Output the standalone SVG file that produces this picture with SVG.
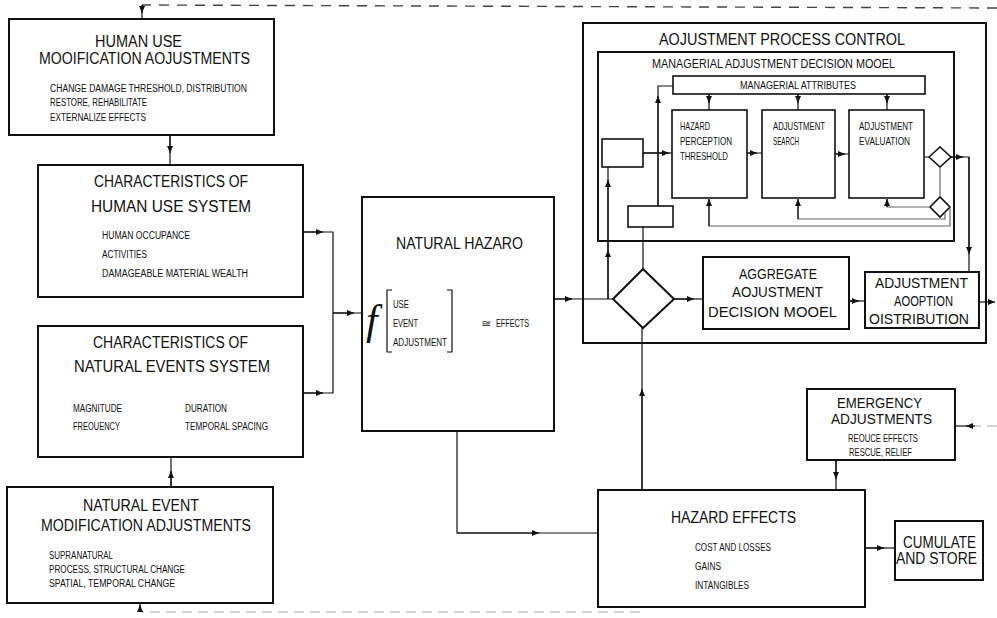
<svg xmlns="http://www.w3.org/2000/svg" width="997" height="618" viewBox="0 0 997 618">
<defs>
<marker id="ah" markerWidth="8" markerHeight="6" refX="7" refY="3" orient="auto" markerUnits="userSpaceOnUse">
<path d="M0,0 L7,3 L0,6 z" fill="#111"/>
</marker>
<style>
.bx{fill:#fff;stroke:#111;stroke-width:2}
.bc{fill:none;stroke:#111;stroke-width:2}
.bi{fill:#fff;stroke:#111;stroke-width:1.6}
.ln{fill:none;stroke:#111;stroke-width:1.2}
.lg{fill:none;stroke:#666;stroke-width:1.2}
.ds{fill:none;stroke:#444;stroke-width:1.4;stroke-dasharray:10 8}
.dl{fill:none;stroke:#aaa;stroke-width:1.2;stroke-dasharray:10 6}
text{font-family:"Liberation Sans Narrow","Liberation Sans",Arial,sans-serif;fill:#111}
.t{font-size:16px}
.s{font-size:10px}
.m{font-size:15px}
</style>
</defs>
<rect width="997" height="618" fill="#fff"/>

<g id="human-use-modification">
<rect class="bx" x="9" y="19" width="265" height="116"/>
<text class="t" x="95" y="47" textLength="87" lengthAdjust="spacingAndGlyphs">HUMAN USE</text>
<text class="t" x="39" y="64" textLength="211" lengthAdjust="spacingAndGlyphs">MOOIFICATION AOJUSTMENTS</text>
<text class="s" x="50" y="92" textLength="197" lengthAdjust="spacingAndGlyphs">CHANGE DAMAGE THRESHOLD, DISTRIBUTION</text>
<text class="s" x="50" y="106" textLength="97" lengthAdjust="spacingAndGlyphs">RESTORE, REHABILITATE</text>
<text class="s" x="50" y="121" textLength="96" lengthAdjust="spacingAndGlyphs">EXTERNALIZE EFFECTS</text>
</g>

<g id="human-use-system">
<rect class="bx" x="38" y="165" width="265" height="132"/>
<text class="t" x="94" y="187" textLength="154" lengthAdjust="spacingAndGlyphs">CHARACTERISTICS OF</text>
<text class="t" x="91" y="212" textLength="160" lengthAdjust="spacingAndGlyphs">HUMAN USE SYSTEM</text>
<text class="s" x="102" y="239" textLength="88" lengthAdjust="spacingAndGlyphs">HUMAN OCCUPANCE</text>
<text class="s" x="102" y="258" textLength="45" lengthAdjust="spacingAndGlyphs">ACTIVITIES</text>
<text class="s" x="102" y="277" textLength="146" lengthAdjust="spacingAndGlyphs">DAMAGEABLE MATERIAL WEALTH</text>
</g>

<g id="natural-events-system">
<rect class="bx" x="38" y="326" width="265" height="131"/>
<text class="t" x="93" y="348" textLength="155" lengthAdjust="spacingAndGlyphs">CHARACTERISTICS OF</text>
<text class="t" x="74" y="372" textLength="196" lengthAdjust="spacingAndGlyphs">NATURAL EVENTS SYSTEM</text>
<text class="s" x="73" y="412" textLength="49" lengthAdjust="spacingAndGlyphs">MAGNITUDE</text>
<text class="s" x="73" y="430" textLength="47" lengthAdjust="spacingAndGlyphs">FREOUENCY</text>
<text class="s" x="185" y="412" textLength="42" lengthAdjust="spacingAndGlyphs">DURATION</text>
<text class="s" x="185" y="430" textLength="83" lengthAdjust="spacingAndGlyphs">TEMPORAL SPACING</text>
</g>

<g id="natural-event-modification">
<rect class="bx" x="7" y="487" width="266" height="116"/>
<text class="t" x="83" y="511" textLength="116" lengthAdjust="spacingAndGlyphs">NATURAL EVENT</text>
<text class="t" x="41" y="531" textLength="210" lengthAdjust="spacingAndGlyphs">MODIFICATION ADJUSTMENTS</text>
<text class="s" x="49" y="559" textLength="64" lengthAdjust="spacingAndGlyphs">SUPRANATURAL</text>
<text class="s" x="49" y="573" textLength="136" lengthAdjust="spacingAndGlyphs">PROCESS, STRUCTURAL CHANGE</text>
<text class="s" x="49" y="587" textLength="126" lengthAdjust="spacingAndGlyphs">SPATIAL, TEMPORAL CHANGE</text>
</g>

<g id="natural-hazard">
<rect class="bx" x="362" y="197" width="192" height="234"/>
<text class="t" x="396" y="249" textLength="127" lengthAdjust="spacingAndGlyphs">NATURAL HAZARO</text>
<text x="366" y="334" style="font-family:'Liberation Serif',serif;font-style:italic;font-size:42px">f</text>
<path class="ln" d="M392,290 L387,290 L387,352 L392,352 M447,290 L452,290 L452,352 L447,352"/>
<text class="s" x="393" y="308" textLength="16" lengthAdjust="spacingAndGlyphs">USE</text>
<text class="s" x="393" y="327" textLength="25" lengthAdjust="spacingAndGlyphs">EVENT</text>
<text class="s" x="393" y="346" textLength="54" lengthAdjust="spacingAndGlyphs">ADJUSTMENT</text>
<text class="s" x="481" y="327" textLength="10" lengthAdjust="spacingAndGlyphs">≅</text>
<text class="s" x="496" y="327" textLength="33" lengthAdjust="spacingAndGlyphs">EFFECTS</text>
</g>

<g id="adjustment-process-control">
<rect class="bc" x="583" y="23" width="403" height="320"/>
<text x="659" y="45" style="font-size:17px" textLength="246" lengthAdjust="spacingAndGlyphs">AOJUSTMENT PROCESS CONTROL</text>
</g>

<g id="managerial-decision-model">
<rect class="bc" x="598" y="52" width="356" height="189"/>
<text x="652" y="68" style="font-size:12.5px" textLength="243" lengthAdjust="spacingAndGlyphs">MANAGERIAL ADJUSTMENT DECISION MOOEL</text>
</g>

<g id="managerial-attributes">
<rect class="bi" x="673" y="76" width="252" height="18"/>
<text class="s" x="740" y="89" textLength="116" lengthAdjust="spacingAndGlyphs">MANAGERIAL ATTRIBUTES</text>
</g>

<g id="hazard-perception-threshold">
<rect class="bi" x="672" y="110" width="75" height="88"/>
<text x="680" y="130" style="font-size:10.5px" textLength="30" lengthAdjust="spacingAndGlyphs">HAZARD</text>
<text x="680" y="145" style="font-size:10.5px" textLength="52" lengthAdjust="spacingAndGlyphs">PERCEPTION</text>
<text x="680" y="160" style="font-size:10.5px" textLength="48" lengthAdjust="spacingAndGlyphs">THRESHOLD</text>
</g>

<g id="adjustment-search">
<rect class="bi" x="762" y="110" width="73" height="88"/>
<text x="773" y="130" style="font-size:10.5px" textLength="52" lengthAdjust="spacingAndGlyphs">ADJUSTMENT</text>
<text x="773" y="145" style="font-size:10.5px" textLength="26" lengthAdjust="spacingAndGlyphs">SEARCH</text>
</g>

<g id="adjustment-evaluation">
<rect class="bi" x="849" y="110" width="75" height="88"/>
<text x="859" y="130" style="font-size:10.5px" textLength="54" lengthAdjust="spacingAndGlyphs">ADJUSTMENT</text>
<text x="859" y="145" style="font-size:10.5px" textLength="51" lengthAdjust="spacingAndGlyphs">EVALUATION</text>
</g>

<g id="decision-diamond-1">
<polygon class="bi" points="929,157 940,147 951,157 940,167"/>
</g>
<g id="decision-diamond-2">
<polygon class="bi" points="930,207 940,197 950,207 940,217"/>
</g>

<g id="input-box-1">
<rect class="bi" x="602" y="139" width="41" height="28"/>
</g>
<g id="input-box-2">
<rect class="bi" x="628" y="206" width="45" height="21"/>
</g>

<g id="main-decision-diamond">
<polygon class="bx" points="613,299 643,269 674,299 643,328"/>
</g>

<g id="aggregate-decision-model">
<rect class="bx" x="703" y="257" width="146" height="72"/>
<text class="m" x="739" y="279" textLength="78" lengthAdjust="spacingAndGlyphs">AGGREGATE</text>
<text class="m" x="732" y="297" textLength="91" lengthAdjust="spacingAndGlyphs">AOJUSTMENT</text>
<text class="m" x="708" y="317" textLength="129" lengthAdjust="spacingAndGlyphs">DECISION MOOEL</text>
</g>

<g id="adjustment-adoption-distribution">
<rect class="bx" x="865" y="272" width="114" height="56"/>
<text class="m" x="875" y="288" textLength="93" lengthAdjust="spacingAndGlyphs">ADJUSTMENT</text>
<text class="m" x="894" y="306" textLength="59" lengthAdjust="spacingAndGlyphs">AOOPTION</text>
<text class="m" x="869" y="324" textLength="100" lengthAdjust="spacingAndGlyphs">OISTRIBUTION</text>
</g>

<g id="emergency-adjustments">
<rect class="bx" x="807" y="389" width="148" height="71"/>
<text class="m" x="837" y="408" textLength="85" lengthAdjust="spacingAndGlyphs">EMERGENCY</text>
<text class="m" x="831" y="424" textLength="101" lengthAdjust="spacingAndGlyphs">ADJUSTMENTS</text>
<text class="s" x="848" y="442" textLength="70" lengthAdjust="spacingAndGlyphs">REOUCE EFFECTS</text>
<text class="s" x="849" y="456" textLength="63" lengthAdjust="spacingAndGlyphs">RESCUE, RELIEF</text>
</g>

<g id="hazard-effects">
<rect class="bx" x="598" y="490" width="267" height="117"/>
<text class="t" x="671" y="523" textLength="125" lengthAdjust="spacingAndGlyphs">HAZARD EFFECTS</text>
<text class="s" x="695" y="551" textLength="76" lengthAdjust="spacingAndGlyphs">COST AND LOSSES</text>
<text class="s" x="695" y="570" textLength="26" lengthAdjust="spacingAndGlyphs">GAINS</text>
<text class="s" x="695" y="589" textLength="54" lengthAdjust="spacingAndGlyphs">INTANGIBLES</text>
</g>

<g id="cumulate-and-store">
<rect class="bx" x="895" y="521" width="88" height="59"/>
<text x="903" y="548" style="font-size:16px" textLength="73" lengthAdjust="spacingAndGlyphs">CUMULATE</text>
<text x="896" y="564" style="font-size:16px" textLength="81" lengthAdjust="spacingAndGlyphs">AND STORE</text>
</g>

<g id="connectors">
<path class="ds" d="M997,8 L142,5"/>
<path class="ln" d="M142,5 L142,19"/>
<path class="ln" d="M142,5 L142,13" marker-end="url(#ah)"/>
<path class="ln" d="M170,135 L170,165"/>
<path class="ln" d="M170,135 L170,153" marker-end="url(#ah)"/>
<path class="ln" d="M303,232 L333,232 L333,393 L303,393 M333,313 L362,313"/>
<path class="ln" d="M303,232 L323,232" marker-end="url(#ah)"/>
<path class="ln" d="M303,393 L323,393" marker-end="url(#ah)"/>
<path class="ln" d="M333,313 L354,313" marker-end="url(#ah)"/>
<path class="ln" d="M171,487 L171,457"/>
<path class="ln" d="M171,487 L171,471" marker-end="url(#ah)"/>
<path class="dl" d="M640,612 L140,612"/>
<path class="ln" d="M140,612 L140,603"/>
<path class="ln" d="M140,612 L140,605" marker-end="url(#ah)"/>
<path class="ln" d="M554,299 L613,299 M608,299 L608,167"/>
<path class="ln" d="M554,299 L572,299" marker-end="url(#ah)"/>
<path class="ln" d="M608,299 L608,250" marker-end="url(#ah)"/>
<path class="ln" d="M608,250 L608,180" marker-end="url(#ah)"/>
<path class="ln" d="M643,153 L672,153"/>
<path class="ln" d="M643,153 L669,153" marker-end="url(#ah)"/>
<path class="ln" d="M658,206 L658,86 L673,86"/>
<path class="ln" d="M658,206 L658,96" marker-end="url(#ah)"/>
<path class="ln" d="M643,269 L643,227"/>
<path class="ln" d="M709,94 L709,110 M798,94 L798,110 M887,94 L887,110"/>
<path class="ln" d="M709,94 L709,103" marker-end="url(#ah)"/>
<path class="ln" d="M798,94 L798,103" marker-end="url(#ah)"/>
<path class="ln" d="M887,94 L887,103" marker-end="url(#ah)"/>
<path class="ln" d="M747,153 L762,153 M835,154 L849,154"/>
<path class="ln" d="M747,153 L757,153" marker-end="url(#ah)"/>
<path class="ln" d="M835,154 L845,154" marker-end="url(#ah)"/>
<path class="ln" d="M924,157 L929,157 M951,157 L969,157 L969,272"/>
<path class="ln" d="M951,157 L963,157" marker-end="url(#ah)"/>
<path class="ln" d="M969,157 L969,254" marker-end="url(#ah)"/>
<path class="lg" d="M940,167 L940,197"/>
<path class="lg" d="M930,207 L887,207 L887,198"/>
<path class="ln" d="M887,207 L887,199" marker-end="url(#ah)"/>
<path class="lg" d="M945,212 L945,219 L798,219 L798,198"/>
<path class="ln" d="M798,219 L798,199" marker-end="url(#ah)"/>
<path class="lg" d="M950,207 L950,226 L709,226 L709,198"/>
<path class="ln" d="M709,226 L709,199" marker-end="url(#ah)"/>
<path class="ln" d="M674,299 L703,299"/>
<path class="ln" d="M674,299 L694,299" marker-end="url(#ah)"/>
<path class="ln" d="M849,301 L865,301"/>
<path class="ln" d="M849,301 L859,301" marker-end="url(#ah)"/>
<path class="ln" d="M979,302 L995,302" marker-end="url(#ah)"/>
<path class="ln" d="M642,490 L642,328"/>
<path class="ln" d="M642,490 L642,389" marker-end="url(#ah)"/>
<path class="ln" d="M457,431 L457,533 L598,533"/>
<path class="ln" d="M457,533 L539,533" marker-end="url(#ah)"/>
<path class="ln" d="M836,460 L836,490"/>
<path class="ln" d="M836,460 L836,479" marker-end="url(#ah)"/>
<path class="dl" d="M997,426 L972,426"/>
<path class="ln" d="M972,426 L955,426"/>
<path class="ln" d="M975,426 L966,426" marker-end="url(#ah)"/>
<path class="ln" d="M865,548 L895,548"/>
<path class="ln" d="M865,548 L884,548" marker-end="url(#ah)"/>
</g>
</svg>
